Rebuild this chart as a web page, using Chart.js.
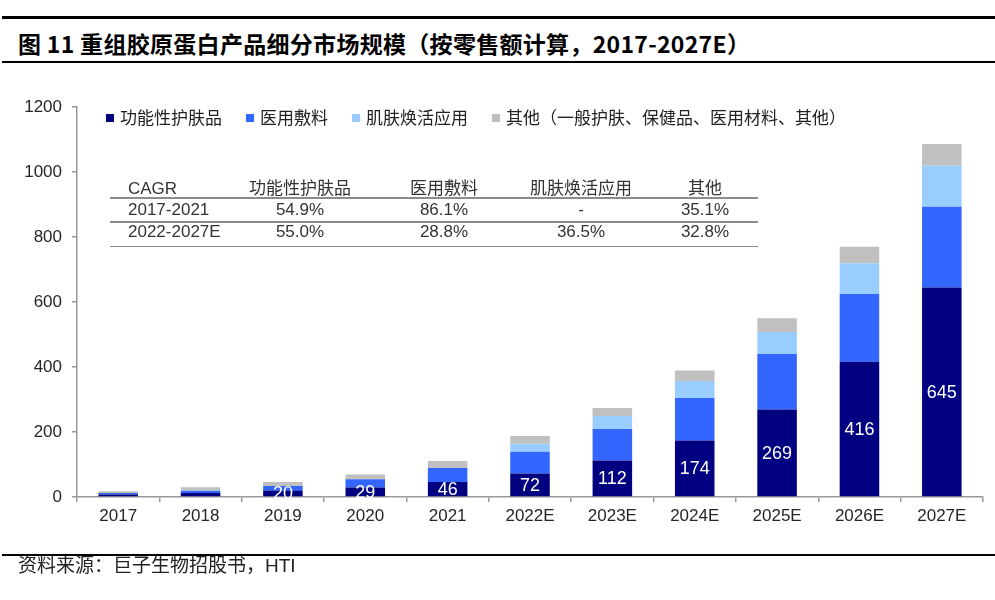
<!DOCTYPE html>
<html lang="zh-CN">
<head>
<meta charset="utf-8">
<title>重组胶原蛋白产品细分市场规模</title>
<script src="https://cdn.jsdelivr.net/npm/chart.js@4.4.0/dist/chart.umd.min.js"></script>
<style>
  html, body { margin: 0; padding: 0; background: #fff; }
  #page {
    position: relative; width: 995px; height: 600px; overflow: hidden;
    font-family: "Liberation Sans", Arial, "Noto Sans CJK SC", sans-serif; color: #222;
  }
  .rule { position: absolute; left: 2px; right: 0; background: #000; }
  #title {
    position: absolute; left: 18px; top: 26px; line-height: 32px; white-space: nowrap;
    font: bold 23px "Noto Sans CJK SC", sans-serif; color: #000; letter-spacing: 0.3px;
  }
  #chart-wrap { position: absolute; left: 0; top: 0; width: 995px; height: 600px; }
  #cagr { position: absolute; left: 0; top: 0; width: 995px; height: 600px; pointer-events: none; }
  .cagr-line { position: absolute; left: 110px; width: 648px; height: 1.5px; background: #8c8c8c; }
  .cagr-cell {
    position: absolute; font-size: 17px; line-height: 20px; white-space: nowrap;
    transform: translate(-50%, -50%); color: #333;
  }
  .cagr-cell.first { transform: translate(0, -50%); }
  #source {
    position: absolute; left: 18px; top: 554px; line-height: 24px; font-size: 19px; color: #222;
    font-family: "Liberation Sans", "Noto Sans CJK SC", sans-serif;
  }
</style>
</head>
<body>
<div id="page">
  <div class="rule" style="top:16px;height:2.5px"></div>
  <div id="title">图 11 重组胶原蛋白产品细分市场规模（按零售额计算，2017-2027E）</div>
  <div class="rule" style="top:60.5px;height:2.5px"></div>

  <div id="chart-wrap"><canvas id="chart"></canvas></div>
  <div id="cagr"></div>

  <div class="rule" style="top:554px;height:2px"></div>
  <div id="source">资料来源：巨子生物招股书，HTI</div>
</div>

<script>
// =============================
// Data
// =============================
const years = ["2017", "2018", "2019", "2020", "2021", "2022E", "2023E", "2024E", "2025E", "2026E", "2027E"];
const skincare = [8, 12, 20, 29, 46, 72, 112, 174, 269, 416, 645];
const dressing = [4, 7, 14, 26, 43, 67, 97, 131, 171, 209, 248];
const rejuvenation = [0, 0, 0, 0, 0, 25, 40, 52, 68, 94, 126];
const others = [6, 11, 12, 14, 22, 24, 25, 32, 42, 51, 67];

const seriesNames = ["功能性护肤品", "医用敷料", "肌肤焕活应用", "其他（一般护肤、保健品、医用材料、其他）"];
const seriesColors = ["#000080", "#3366FF", "#99CCFF", "#C0C0C0"];

const yTicks = [0, 200, 400, 600, 800, 1000, 1200];

const cagrHeaders = ["CAGR", "功能性护肤品", "医用敷料", "肌肤焕活应用", "其他"];
const cagrPeriods = ["2017-2021", "2022-2027E"];
const cagrValues = [
  ["54.9%", "86.1%", "-", "35.1%"],
  ["55.0%", "28.8%", "36.5%", "32.8%"]
];

// =============================
// CAGR table (overlay)
// =============================
function buildCagrTable() {
  const box = document.getElementById("cagr");
  const colX = [128, 300, 444, 581, 705];
  const rowY = [189, 209.5, 232];
  const lineY = [197, 221, 245.5];

  lineY.forEach(y => {
    const l = document.createElement("div");
    l.className = "cagr-line";
    l.style.top = y + "px";
    box.appendChild(l);
  });

  const rows = [cagrHeaders].concat(cagrPeriods.map((p, i) => [p].concat(cagrValues[i])));
  rows.forEach((row, r) => {
    row.forEach((txt, c) => {
      const d = document.createElement("div");
      d.className = "cagr-cell" + (c === 0 ? " first" : "");
      d.style.left = colX[c] + "px";
      d.style.top = rowY[r] + "px";
      d.textContent = txt;
      box.appendChild(d);
    });
  });
}

// =============================
// Plugins
// =============================
const inlineLegend = {
  id: "inlineLegend",
  afterDraw(chart) {
    const ctx = chart.ctx;
    ctx.save();
    ctx.font = '17px "Noto Sans CJK SC", sans-serif';
    ctx.textBaseline = "middle";
    let x = 106;
    const y = 118;
    chart.data.datasets.forEach(ds => {
      ctx.fillStyle = ds.backgroundColor;
      ctx.fillRect(x, y - 4, 8, 8);
      x += 14;
      ctx.fillStyle = "#222";
      ctx.fillText(ds.label, x, y);
      x += ctx.measureText(ds.label).width + 24;
    });
    ctx.restore();
  }
};

const barLabels = {
  id: "barLabels",
  afterDatasetsDraw(chart) {
    const ctx = chart.ctx;
    const meta = chart.getDatasetMeta(0);
    ctx.save();
    ctx.font = '18px "Liberation Sans", Arial, sans-serif';
    ctx.fillStyle = "#fff";
    ctx.textAlign = "center";
    ctx.textBaseline = "middle";
    meta.data.forEach((bar, i) => {
      const v = skincare[i];
      if (v < 20) return;
      ctx.fillText(String(v), bar.x, (bar.y + bar.base) / 2 + 1);
    });
    ctx.restore();
  }
};

// =============================
// Chart
// =============================
const axisColor = "#999999";
const tickFont = { family: '"Liberation Sans", Arial, sans-serif', size: 17 };

new Chart(document.getElementById("chart"), {
  type: "bar",
  data: {
    labels: years,
    datasets: [skincare, dressing, rejuvenation, others].map((d, i) => ({
      label: seriesNames[i],
      data: d,
      backgroundColor: seriesColors[i],
      borderWidth: 0,
      barPercentage: 0.48,
      categoryPercentage: 1.0
    }))
  },
  options: {
    responsive: true,
    maintainAspectRatio: false,
    animation: false,
    layout: { padding: { top: 107, right: 12, bottom: 73, left: 0 } },
    plugins: { legend: { display: false }, tooltip: { enabled: false } },
    scales: {
      x: {
        stacked: true,
        grid: { display: true, offset: true, drawOnChartArea: false, drawTicks: true, tickLength: 5, color: axisColor, lineWidth: 1.5 },
        border: { display: true, color: axisColor, width: 1.5 },
        ticks: { color: "#262626", font: tickFont, padding: 4, maxRotation: 0 },
        afterFit(scale) { scale.height = 30; }
      },
      y: {
        stacked: true,
        min: 0,
        max: 1200,
        afterBuildTicks(scale) { scale.ticks = yTicks.map(v => ({ value: v })); },
        grid: { display: true, drawOnChartArea: false, drawTicks: true, tickLength: 5, color: axisColor, lineWidth: 1.5 },
        border: { display: true, color: axisColor, width: 1.5 },
        ticks: { color: "#262626", font: tickFont, padding: 10, callback: v => String(v) },
        afterFit(scale) { scale.width = 77; }
      }
    }
  },
  plugins: [inlineLegend, barLabels]
});

buildCagrTable();
</script>
</body>
</html>
